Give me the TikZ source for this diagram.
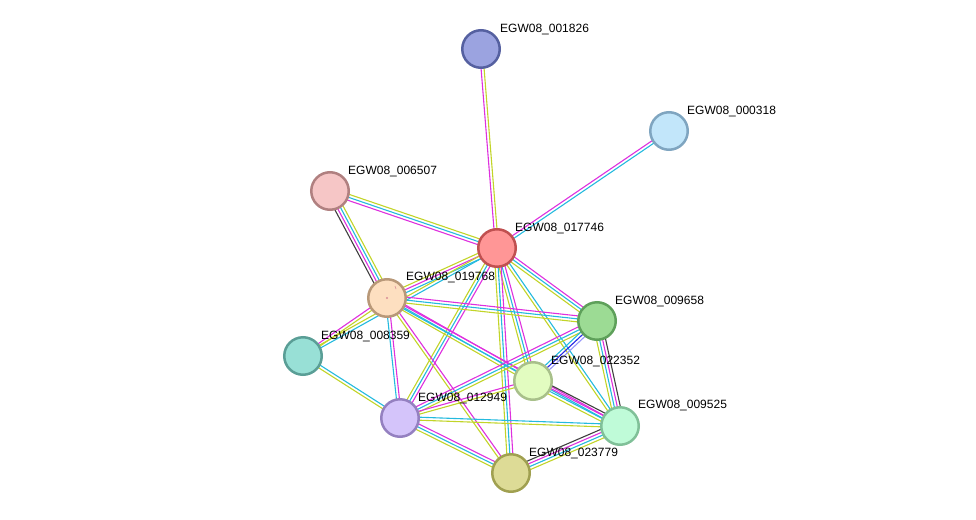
\documentclass[tikz,border=0pt]{standalone}
\usepackage{fontspec}
\setmainfont{Liberation Sans}
\usetikzlibrary{calc,backgrounds}
\definecolor{cMag}{RGB}{222,48,222}
\definecolor{cCya}{RGB}{36,186,222}
\definecolor{cYel}{RGB}{194,212,40}
\definecolor{cBlk}{RGB}{64,64,64}
\definecolor{cBlu}{RGB}{40,40,230}
\definecolor{cLbl}{RGB}{150,150,250}
\definecolor{f1826}{RGB}{155,163,224}\definecolor{d1826}{RGB}{85,96,160}
\definecolor{f0318}{RGB}{194,230,250}\definecolor{d0318}{RGB}{127,165,192}
\definecolor{f6507}{RGB}{246,198,198}\definecolor{d6507}{RGB}{176,128,128}
\definecolor{f7746}{RGB}{255,150,150}\definecolor{d7746}{RGB}{192,80,80}
\definecolor{f9768}{RGB}{253,223,192}\definecolor{d9768}{RGB}{184,152,120}
\definecolor{f9658}{RGB}{156,219,148}\definecolor{d9658}{RGB}{94,160,90}
\definecolor{f8359}{RGB}{152,224,214}\definecolor{d8359}{RGB}{90,158,150}
\definecolor{f2352}{RGB}{226,252,192}\definecolor{d2352}{RGB}{168,192,138}
\definecolor{f2949}{RGB}{212,196,250}\definecolor{d2949}{RGB}{148,128,192}
\definecolor{f9525}{RGB}{191,251,216}\definecolor{d9525}{RGB}{128,192,152}
\definecolor{f3779}{RGB}{221,219,150}\definecolor{d3779}{RGB}{160,160,80}
\definecolor{dotc}{RGB}{215,140,150}
\tikzset{
  prot/.style={circle, minimum size=37.5pt, inner sep=0pt, line width=2.5pt},
  lbl/.style={anchor=base west, inner sep=0pt, font=\fontsize{12}{14}\selectfont},
  edgeln/.style={line width=1.1pt},
}
\newcommand\bundle[3]{%
  \gdef\nb{0}%
  \foreach \c in {#3}{\xdef\nb{\the\numexpr\nb+1\relax}}%
  \foreach \c [count=\i] in {#3}{%
    \pgfmathsetmacro\off{(\i-(\nb+1)/2)*3.0}%
    \draw[\c, edgeln] ($(#1)!\off pt!90:(#2)$) -- ($(#2)!\off pt!-90:(#1)$);
  }%
}
\begin{document}
\begin{tikzpicture}[x=1pt,y=-1pt]
\useasboundingbox (0,0) rectangle (976,519);
% nodes
\node[prot, fill=f1826, draw=d1826] (n1826) at (481,49) {};
\node[prot, fill=f0318, draw=d0318] (n0318) at (669,131) {};
\node[prot, fill=f6507, draw=d6507] (n6507) at (330,191) {};
\node[prot, fill=f7746, draw=d7746] (n7746) at (497,248) {};
\node[prot, fill=f9768, draw=d9768] (n9768) at (387,298) {};
\node[prot, fill=f9658, draw=d9658] (n9658) at (597,321) {};
\node[prot, fill=f8359, draw=d8359] (n8359) at (303,356) {};
\node[prot, fill=f2352, draw=d2352] (n2352) at (533,381) {};
\node[prot, fill=f2949, draw=d2949] (n2949) at (400,418) {};
\node[prot, fill=f9525, draw=d9525] (n9525) at (620,426) {};
\node[prot, fill=f3779, draw=d3779] (n3779) at (511,473) {};
\fill[dotc] (n9768.center) circle (1.2);
\draw[dotc, line width=0.6pt] ($(n9768)+(8,-12)$) -- ($(n9768)+(9,-9)$);
% edges
\begin{pgfonlayer}{background}
\bundle{n1826}{n7746}{cMag,cYel}
\bundle{n0318}{n7746}{cMag,cCya}
\bundle{n6507}{n7746}{cMag,cCya,cYel}
\bundle{n6507}{n9768}{cBlk,cMag,cCya,cYel}
\bundle{n7746}{n9768}{cYel,cMag,cCya}
\bundle{n8359}{n7746}{cCya,cYel}
\bundle{n8359}{n9768}{cYel,cMag}
\bundle{n7746}{n2949}{cYel,cCya,cMag}
\bundle{n7746}{n9658}{cYel,cCya,cMag}
\bundle{n7746}{n2352}{cYel,cCya,cMag}
\bundle{n7746}{n9525}{cYel,cCya}
\bundle{n7746}{n3779}{cYel,cCya,cMag}
\bundle{n9768}{n9658}{cYel,cCya,cMag}
\bundle{n9768}{n2352}{cYel,cCya,cMag}
\bundle{n9768}{n9525}{cCya,cMag}
\bundle{n9768}{n2949}{cCya,cMag}
\bundle{n9768}{n3779}{cYel,cMag}
\bundle{n8359}{n2949}{cYel,cCya}
\bundle{n2949}{n9658}{cYel,cCya,cMag}
\bundle{n2949}{n2352}{cYel,cMag}
\bundle{n2949}{n9525}{cYel,cCya}
\bundle{n2949}{n3779}{cYel,cCya,cMag}
\bundle{n9658}{n2352}{cCya,cBlu,cLbl}
\bundle{n9658}{n9525}{cYel,cCya,cMag,cBlk}
\bundle{n2352}{n9525}{cYel,cCya,cMag,cBlk}
\bundle{n3779}{n9525}{cYel,cCya,cMag,cBlk}
\end{pgfonlayer}
% labels
\node[lbl] (t1826) at ($(n1826)+(19,-16.5)$) {EGW08\_001826};
\node[lbl] (t0318) at ($(n0318)+(18,-16.5)$) {EGW08\_000318};
\node[lbl] (t6507) at ($(n6507)+(18,-16.5)$) {EGW08\_006507};
\node[lbl] (t7746) at ($(n7746)+(18,-16.5)$) {EGW08\_017746};
\node[lbl] (t9768) at ($(n9768)+(19,-17.5)$) {EGW08\_019768};
\node[lbl] (t9658) at ($(n9658)+(18,-16.5)$) {EGW08\_009658};
\node[lbl] (t8359) at ($(n8359)+(18,-16.5)$) {EGW08\_008359};
\node[lbl] (t2352) at ($(n2352)+(18,-16.5)$) {EGW08\_022352};
\node[lbl] (t2949) at ($(n2949)+(18,-16.5)$) {EGW08\_012949};
\node[lbl] (t9525) at ($(n9525)+(18,-17.5)$) {EGW08\_009525};
\node[lbl] (t3779) at ($(n3779)+(18,-16.5)$) {EGW08\_023779};
\end{tikzpicture}
\end{document}
